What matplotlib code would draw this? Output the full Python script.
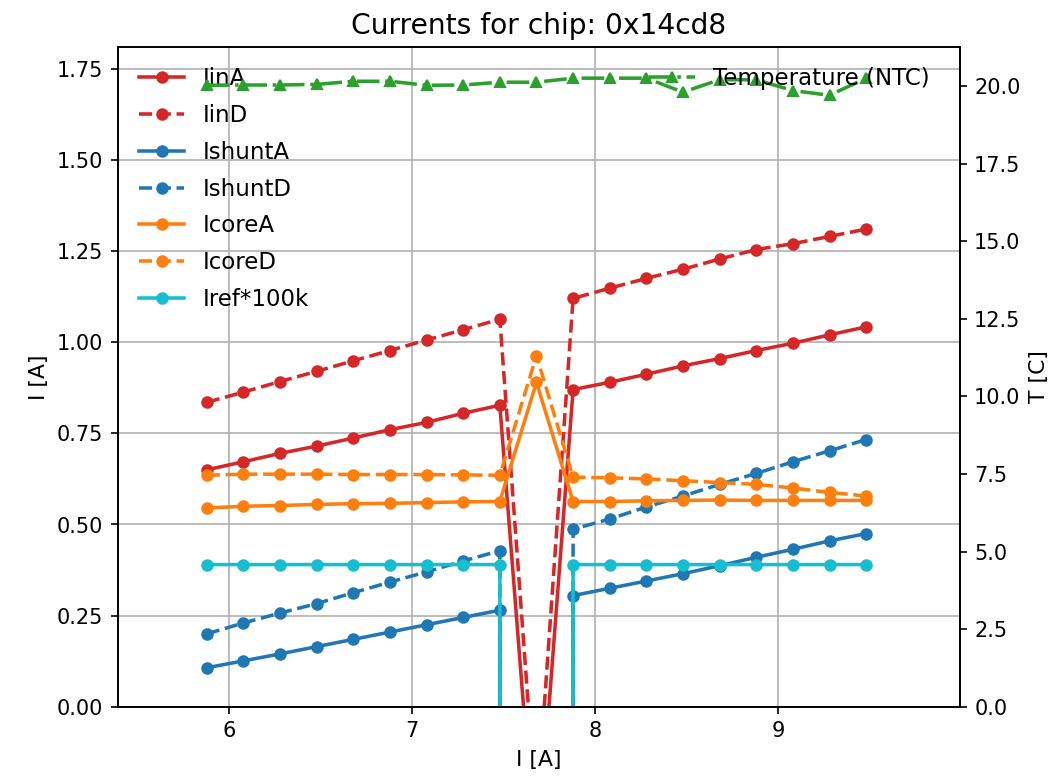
import matplotlib
matplotlib.use("Agg")
import matplotlib.pyplot as plt

current = [5.88, 6.08, 6.28, 6.48, 6.68, 6.88, 7.08, 7.28, 7.48, 7.68,
           7.88, 8.08, 8.28, 8.48, 8.68, 8.88, 9.08, 9.28, 9.48]

iin_a = [0.650, 0.672, 0.695, 0.715, 0.737, 0.760, 0.780, 0.805, 0.827, -0.45,
         0.870, 0.890, 0.912, 0.935, 0.955, 0.977, 0.997, 1.020, 1.042]
iin_d = [0.835, 0.863, 0.892, 0.920, 0.949, 0.977, 1.006, 1.034, 1.063, -0.30,
         1.120, 1.148, 1.175, 1.200, 1.228, 1.254, 1.270, 1.290, 1.310]
ishunt_a = [0.107, 0.126, 0.145, 0.165, 0.185, 0.205, 0.225, 0.245, 0.265, -100.0,
            0.305, 0.325, 0.345, 0.365, 0.387, 0.410, 0.432, 0.455, 0.475]
ishunt_d = [0.200, 0.230, 0.257, 0.283, 0.313, 0.342, 0.370, 0.400, 0.428, -100.0,
            0.487, 0.515, 0.548, 0.578, 0.610, 0.640, 0.672, 0.702, 0.733]
icore_a = [0.545, 0.550, 0.552, 0.555, 0.557, 0.558, 0.560, 0.562, 0.563, 0.890,
           0.563, 0.563, 0.565, 0.566, 0.567, 0.566, 0.566, 0.566, 0.566]
icore_d = [0.635, 0.638, 0.638, 0.638, 0.637, 0.637, 0.637, 0.636, 0.635, 0.963,
           0.630, 0.628, 0.625, 0.620, 0.615, 0.610, 0.600, 0.588, 0.578]
iref_100k = [0.39, 0.39, 0.39, 0.39, 0.39, 0.39, 0.39, 0.39, 0.39, -100.0,
             0.39, 0.39, 0.39, 0.39, 0.39, 0.39, 0.39, 0.39, 0.39]
temperature = [20.02, 20.03, 20.03, 20.05, 20.15, 20.15, 20.02, 20.03, 20.12, 20.12,
               20.25, 20.25, 20.25, 19.80, 20.20, 20.20, 19.85, 19.70, 20.25]

series = [
    ("IinA", iin_a, "tab:red", "-"),
    ("IinD", iin_d, "tab:red", "--"),
    ("IshuntA", ishunt_a, "tab:blue", "-"),
    ("IshuntD", ishunt_d, "tab:blue", "--"),
    ("IcoreA", icore_a, "tab:orange", "-"),
    ("IcoreD", icore_d, "tab:orange", "--"),
    ("Iref*100k", iref_100k, "tab:cyan", "-"),
]

fig, ax = plt.subplots(figsize=(7.053, 5.207), dpi=150)
fig.subplots_adjust(left=0.1115, right=0.907, top=0.94, bottom=0.095)

for label, vals, color, ls in series:
    ax.plot(current, vals, color=color, linestyle=ls, marker="o", markersize=5,
            linewidth=1.7, label=label)

ax.set_xlim(5.395, 9.99)
ax.set_ylim(0, 1.81)
ax.set_xticks([6, 7, 8, 9])
ax.set_xlabel("I [A]", fontsize=10.5)
ax.set_ylabel("I [A]", fontsize=10.5)
ax.grid(True)
ax.set_title("Currents for chip: 0x14cd8", fontsize=13.5)
ax.legend(loc="upper left", frameon=False, fontsize=11, labelspacing=0.6)

ax2 = ax.twinx()
ax2.plot(current, temperature, color="tab:green", linestyle="-.", marker="^",
         markersize=5, linewidth=1.7, label="Temperature (NTC)")
ax2.set_ylim(0, 21.26)
ax2.set_ylabel("T [C]", fontsize=10.5)
ax2.legend(loc="upper right", frameon=False, fontsize=11,
           bbox_to_anchor=(0.989, 1.0))

fig.savefig("out.png", dpi=150)
